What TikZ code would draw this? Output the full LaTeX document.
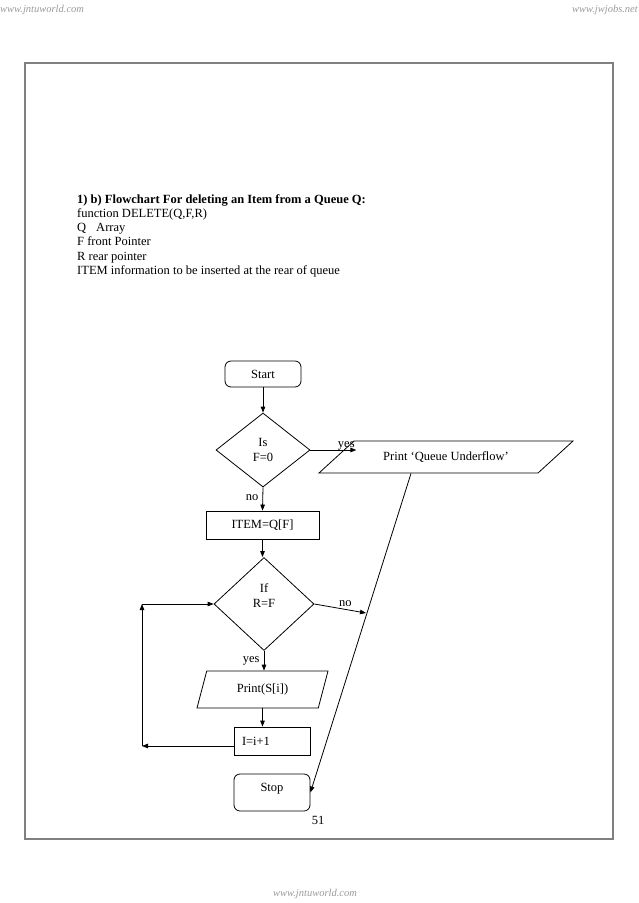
\documentclass[tikz,border=0pt]{standalone}
\usepackage{fontspec}
\setmainfont{Liberation Serif}
\usetikzlibrary{arrows.meta,positioning,shapes.geometric,calc}
\definecolor{wmgray}{HTML}{9A9A9A}
\definecolor{framegray}{HTML}{808080}

\begin{document}
\begin{tikzpicture}[x=1pt,y=-1pt,
  txt/.style={font=\fontsize{12.5}{14.3}\selectfont,inner sep=0pt},
  term/.style={rectangle,rounded corners=6pt,draw,line width=0.8pt,
               minimum width=76pt,font=\fontsize{12.5}{14.3}\selectfont},
  proc/.style={rectangle,draw,line width=0.8pt,minimum height=28pt,
               font=\fontsize{12.5}{14.3}\selectfont},
  dec/.style={diamond,draw,line width=0.8pt,inner sep=0pt,align=center,
              font=\fontsize{12.5}{15}\selectfont},
  io/.style={trapezium,trapezium stretches body,draw,line width=0.8pt,
             font=\fontsize{12.5}{14.3}\selectfont},
  arr/.style={-{Triangle[length=6pt,width=4.5pt]},line width=0.8pt},
  wm/.style={font=\fontsize{10.5}{12}\selectfont\itshape,text=wmgray,inner sep=0pt}
]
\useasboundingbox (0,0) rectangle (638,903);

% Page marks and frame
\node[wm,anchor=base west] (wmtl) at (0,12)   {www.jntuworld.com};
\node[wm,anchor=base east] (wmtr) at (638,12) {www.jwjobs.net};
\node[wm,anchor=base]      (wmb)  at (315,896) {www.jntuworld.com};
\draw[framegray,line width=1.4pt] (25,63) rectangle (613,839);

% Heading
\node[txt,anchor=north west,align=left] (head) at (77,194)
  {\textbf{1) b) Flowchart For deleting an Item from a Queue Q:}\\
   function DELETE(Q,F,R)\\
   Q\hspace{10pt}Array\\
   F front Pointer\\
   R rear pointer\\
   ITEM information to be inserted at the rear of queue};

% Main column
\node[term,minimum height=26pt] (start) at (263,374) {Start};
\node[dec,minimum width=94pt,minimum height=74pt] (isf) at (263,450) {Is\\F=0};
\node[io,trapezium left angle=26.57,trapezium right angle=153.43,
      minimum width=254pt,minimum height=32pt] (under) at (446,457)
      {Print `Queue Underflow'};
\node[proc,minimum width=113pt] (item) at (262.5,525) {ITEM=Q[F]};
\node[dec,minimum width=100pt,minimum height=93pt,text depth=17pt] (rf) at (264,604) {If\\R=F};
\node[io,trapezium left angle=61.6,trapezium right angle=118.4,
      minimum width=131pt,minimum height=37pt] (prt) at (262.5,689.5)
      {Print(S[i])};
\node[proc,text width=60pt,align=left,inner xsep=8pt] (inc) at (272,741) {I=i+1};
\node[term,inner ysep=0pt,text height=17pt,text depth=20pt,
      text width=64pt,align=center,inner xsep=2pt] (stop) at (272,792.5) {Stop};
\node[txt] (pg) at (318,820) {51};

% Free ends
\coordinate (yesend) at ($(isf.east)+(46,0)$);
\coordinate (noend)  at (366,613);
\coordinate (lpb)    at (142,746);
\coordinate (lpt)    at (lpb |- rf.west);

% Connectors
\draw[arr] (start) -- (isf.north);
\draw[arr] (isf.east) -- node[txt,above,pos=0.78,yshift=-1pt] {yes} (yesend);
\draw[arr] (isf.south) -- node[txt,left,pos=0.45,xshift=-4pt] {no} (item.north);
\draw[arr] (item.south) -- (item.south |- rf.north);
\draw[arr] (rf.east) -- node[txt,above,pos=0.6,yshift=2pt] {no} (noend);
\draw[arr] ($(under.south)+(-35,0)$) -- (stop.east);
\draw[arr] (rf.south) -- node[txt,left,pos=0.5,xshift=-4pt] {yes} (rf.south |- prt.north);
\draw[arr] (prt.south) -- (prt.south |- inc.north);

% Loop back
\draw[arr] ($(inc.west)+(0,5)$) -- (lpb);
\draw[arr] (lpb) -- (lpt);
\draw[arr] (lpt) -- (rf.west);

\end{tikzpicture}
\end{document}
